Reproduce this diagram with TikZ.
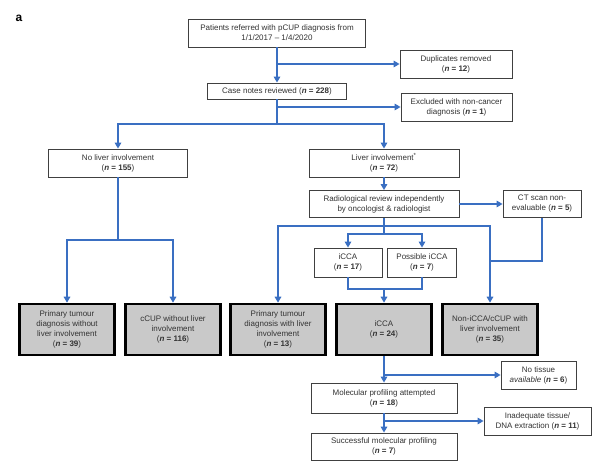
\documentclass[tikz,border=0pt]{standalone}
\usepackage{fontspec}
\setmainfont{Liberation Sans}
\usetikzlibrary{arrows.meta}
\definecolor{flowblue}{HTML}{3A6FC2}
\definecolor{boxgray}{HTML}{C9C9C9}
\newcommand{\nn}[1]{(\textbf{\textit{n} = #1})}
\begin{document}
\begin{tikzpicture}[x=1pt,y=-1pt]

\tikzset{box/.style = {draw=black!75,line width=0.8pt,fill=white,align=center,inner sep=1pt,
  font=\fontsize{8}{10}\selectfont,text=black!80}}
\tikzset{outcome/.style = {box,draw=black,line width=2.6pt,fill=boxgray,minimum width=95,minimum height=51}}
\tikzset{flow/.style = {draw=flowblue,line width=1.5pt}}
\tikzset{arr/.style = {flow,-{Triangle[width=6.5pt,length=6pt]}}}
\useasboundingbox (0,0) rectangle (600,465);
\node[font=\bfseries\fontsize{12}{13}\selectfont] (label) at (19,18) {a};
% boxes
\node[box,minimum width=177,minimum height=28] (patients) at (277,33) {Patients referred with pCUP diagnosis from\\1/1/2017 -- 1/4/2020};
\node[box,minimum width=112,minimum height=28] (dup) at (456,64) {Duplicates removed\\\nn{12}};
\node[box,minimum width=139,minimum height=16] (notes) at (277,91) {Case notes reviewed \nn{228}};
\node[box,minimum width=111,minimum height=28] (excl) at (456.5,107) {Excluded with non-cancer\\diagnosis \nn{1}};
\node[box,minimum width=139,minimum height=28] (noliver) at (118,163) {No liver involvement\\\nn{155}};
\node[box,minimum width=150,minimum height=28] (liver) at (384,163) {Liver involvement\textsuperscript{*}\\\nn{72}};
\node[box,minimum width=150,minimum height=27] (radio) at (384,204) {Radiological review independently\\by oncologist \& radiologist};
\node[box,minimum width=78,minimum height=27] (ct) at (542,204) {CT scan non-\\evaluable \nn{5}};
\node[box,minimum width=68,minimum height=29] (icca) at (348,262.5) {iCCA\\\nn{17}};
\node[box,minimum width=69,minimum height=29] (possible) at (422,262.5) {Possible iCCA\\\nn{7}};
% outcome boxes
\node[outcome] (primno) at (67,329.5) {Primary tumour\\diagnosis without\\liver involvement\\\nn{39}};
\node[outcome] (ccup) at (173,329.5) {cCUP without liver\\involvement\\\nn{116}};
\node[outcome] (primliver) at (278,329.5) {Primary tumour\\diagnosis with liver\\involvement\\\nn{13}};
\node[outcome] (iccaall) at (384,329.5) {iCCA\\\nn{24}};
\node[outcome] (noniCCA) at (490,329.5) {Non-iCCA/cCUP with\\liver involvement\\\nn{35}};
% profiling
\node[box,minimum width=75,minimum height=28] (notissue) at (538.5,375) {No tissue\\\textit{available} \nn{6}};
\node[box,minimum width=146,minimum height=30] (molec) at (384,398) {Molecular profiling attempted\\\nn{18}};
\node[box,minimum width=107,minimum height=28] (inadeq) at (537.5,421) {Inadequate tissue/\\DNA extraction \nn{11}};
\node[box,minimum width=146,minimum height=27] (success) at (384,446.5) {Successful molecular profiling\\\nn{7}};
% junctions
\coordinate (livsplit) at (277,124);
\coordinate (nosplit) at (118,240);
\coordinate (radsplit) at (384,226);
\coordinate (iccsplit) at (384,234);
\coordinate (iccjoin) at (384,289);
\coordinate (ctjoin) at (490,261);
%edges
\draw[arr] (patients.south) -- (notes.north);
\draw[arr] (patients.south |- dup.west) -- (dup.west);
\draw[flow] (notes.south) -- (livsplit);
\draw[arr] (notes.south |- excl.west) -- (excl.west);
\draw[arr] (livsplit) -| (noliver.north);
\draw[arr] (livsplit) -| (liver.north);
\draw[flow] (noliver.south) -- (nosplit);
\draw[arr] (nosplit) -| (primno.north);
\draw[arr] (nosplit) -| (ccup.north);
\draw[arr] (liver.south) -- (radio.north);
\draw[arr] (radio.east) -- (ct.west);
\draw[flow] (radio.south) -- (iccsplit);
\draw[arr] (radsplit) -| (primliver.north);
\draw[arr] (radsplit) -| (noniCCA.north);
\draw[flow] (ct.south) |- (ctjoin);
\draw[arr] (iccsplit) -| (icca.north);
\draw[arr] (iccsplit) -| (possible.north);
\draw[flow] (icca.south) |- (iccjoin) -| (possible.south);
\draw[arr] (iccjoin) -- (iccaall.north);
\draw[arr] (iccaall.south) -- (molec.north);
\draw[arr] (iccaall.south |- notissue.west) -- (notissue.west);
\draw[arr] (molec.south) -- (success.north);
\draw[arr] (molec.south |- inadeq.west) -- (inadeq.west);
\end{tikzpicture}
\end{document}
